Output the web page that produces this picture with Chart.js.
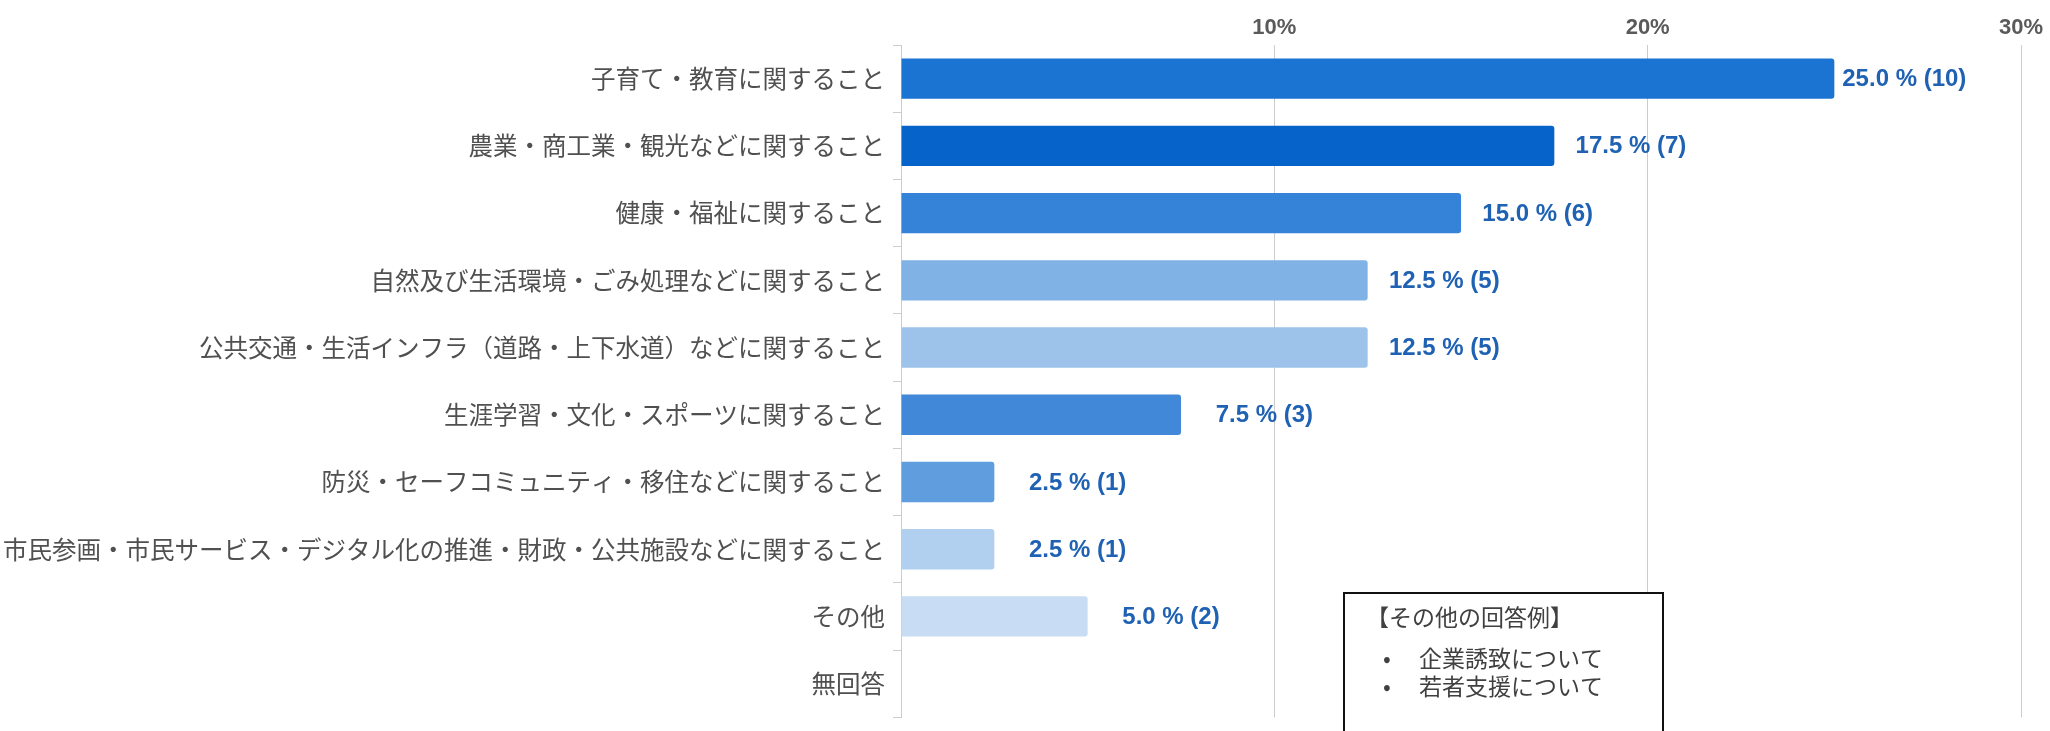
<!DOCTYPE html>
<html>
<head>
<meta charset="utf-8">
<script src="https://cdn.jsdelivr.net/npm/chart.js@4/dist/chart.umd.min.js"></script>
<style>
html,body{margin:0;padding:0;background:#fff;overflow:hidden;}
#wrap{position:relative;width:2050px;height:740px;}
</style>
</head>
<body>
<div id="wrap"><canvas id="c" width="2050" height="740"></canvas></div>
<script>
const categories = [
  '子育て・教育に関すること',
  '農業・商工業・観光などに関すること',
  '健康・福祉に関すること',
  '自然及び生活環境・ごみ処理などに関すること',
  '公共交通・生活インフラ（道路・上下水道）などに関すること',
  '生涯学習・文化・スポーツに関すること',
  '防災・セーフコミュニティ・移住などに関すること',
  '市民参画・市民サービス・デジタル化の推進・財政・公共施設などに関すること',
  'その他',
  '無回答'
];
const percents = [25.0, 17.5, 15.0, 12.5, 12.5, 7.5, 2.5, 2.5, 5.0, 0];
const counts = [10, 7, 6, 5, 5, 3, 1, 1, 2, 0];
const barColors = ['#1b74d1', '#0663c9', '#3483d8', '#80b2e6', '#9ec3ea', '#4189d8', '#5f9ddf', '#b1d0f0', '#c8ddf3', '#dbe8f7'];
const xTicks = [10, 20, 30];
const noteTitle = '【その他の回答例】';
const noteItems = ['企業誘致について', '若者支援について'];

const labelPlugin = {
  id: 'valueLabels',
  afterDatasetsDraw(chart) {
    const ctx = chart.ctx;
    const meta = chart.getDatasetMeta(0);
    ctx.save();
    ctx.font = 'bold 24px "Liberation Sans", Arial, sans-serif';
    ctx.fillStyle = '#1f62b4';
    ctx.textAlign = 'right';
    ctx.textBaseline = 'middle';
    meta.data.forEach((el, i) => {
      if (!percents[i]) return;
      ctx.fillText(percents[i].toFixed(1) + ' % (' + counts[i] + ')', el.x + 132, el.y + 1);
    });
    ctx.restore();
  }
};

const notePlugin = {
  id: 'noteBox',
  afterDraw(chart) {
    const ctx = chart.ctx;
    ctx.save();
    ctx.fillStyle = '#ffffff';
    ctx.fillRect(1344, 593, 319, 160);
    ctx.strokeStyle = '#111';
    ctx.lineWidth = 2;
    ctx.strokeRect(1344, 593, 319, 160);
    ctx.fillStyle = '#404040';
    ctx.textBaseline = 'middle';
    ctx.textAlign = 'left';
    ctx.font = '23px "Noto Sans CJK JP", sans-serif';
    ctx.fillText(noteTitle, 1366, 617);
    noteItems.forEach((t, i) => {
      ctx.fillText('•', 1383, 658 + i * 28);
      ctx.fillText(t, 1419, 658 + i * 28);
    });
    ctx.restore();
  }
};

new Chart(document.getElementById('c'), {
  type: 'bar',
  data: {
    labels: categories,
    datasets: [{
      data: percents,
      backgroundColor: barColors,
      borderRadius: 3,
      barPercentage: 0.6,
      categoryPercentage: 1
    }]
  },
  options: {
    indexAxis: 'y',
    responsive: false,
    animation: false,
    layout: { padding: { left: 0, right: 29, top: 0, bottom: 7 } },
    plugins: { legend: { display: false }, tooltip: { enabled: false } },
    scales: {
      x: {
        position: 'top',
        min: 0, max: 30,
        afterBuildTicks(scale) { scale.ticks = [0].concat(xTicks).map(v => ({ value: v })); },
        afterFit(scale) { scale.height = 45; },
        ticks: {
          callback: v => (v === 0 ? '' : v + '%'),
          font: { family: '"Liberation Sans", Arial, sans-serif', size: 22, weight: 'bold' },
          color: '#5a5a5a',
          padding: 4,
          maxRotation: 0
        },
        grid: { color: '#cccccc', drawTicks: false, lineWidth: 1 },
        border: { display: false }
      },
      y: {
        afterFit(scale) { scale.width = 901; },
        ticks: {
          font: { family: '"Noto Sans CJK JP", sans-serif', size: 24.5 },
          color: '#505050',
          padding: 8,
          autoSkip: false
        },
        grid: { drawOnChartArea: false, color: '#cccccc', tickLength: 8, offset: true },
        border: { color: '#cccccc', width: 1 }
      }
    }
  },
  plugins: [labelPlugin, notePlugin]
});
</script>
</body>
</html>
